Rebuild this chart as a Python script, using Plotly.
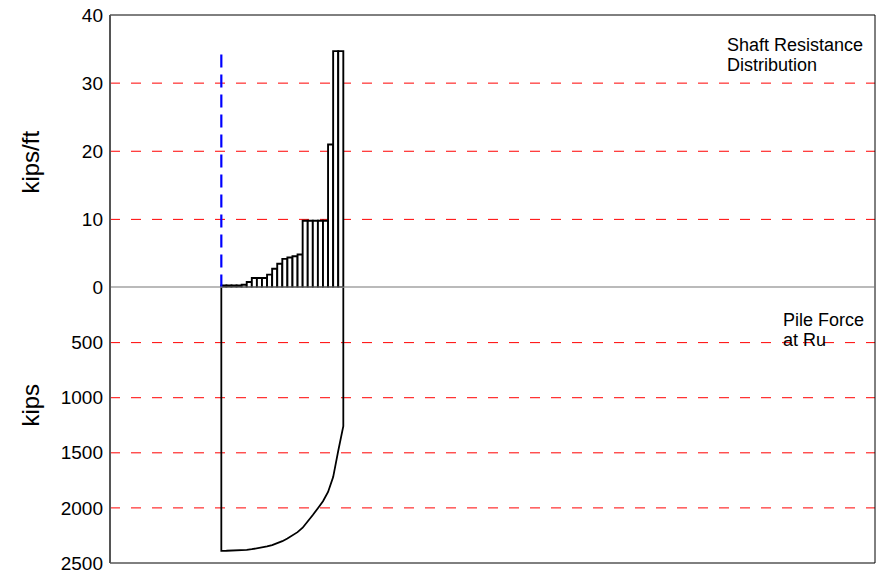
import plotly.graph_objects as go

# ---- data ----
# shaft resistance per pile segment (kips/ft), segments 1..24
shaft_resistance = [0.3, 0.3, 0.3, 0.3, 0.4, 0.8, 1.4, 1.4, 1.4, 1.9, 2.75, 3.5,
                    4.2, 4.4, 4.6, 4.85, 9.8, 9.8, 9.8, 9.8, 9.8, 21.0, 34.7, 34.7]
segment_centers = [i + 0.5 for i in range(len(shaft_resistance))]

# pile force at Ru (kips) at segment boundaries 0..24
force_depth = list(range(25))
pile_force = [2390, 2389, 2388, 2386, 2384, 2380, 2375, 2368, 2360, 2350, 2338, 2322,
              2302, 2278, 2250, 2220, 2180, 2125, 2065, 2003, 1940, 1855, 1720, 1482, 1259]

top_ticks = [0, 10, 20, 30, 40]
bottom_ticks = [500, 1000, 1500, 2000, 2500]
top_grid = [10, 20, 30]
bottom_grid = [500, 1000, 1500, 2000]
marker_line_top = 35

FONT = "Liberation Sans, Arial, sans-serif"

W, H = 880, 579
PL, PR, PT, PB = 110, 875, 12, 569       # plot area in window pixels
MID = 289
L, T, R, B = PL, PT, W - PR, H - PB
pw, ph = PR - PL, PB - PT
split = (PB - MID) / ph

def px(xp):
    return (xp - PL) / pw

def py(yp):
    return (PB - yp) / ph

fig = go.Figure()

# shaft resistance bars
fig.add_trace(go.Bar(
    x=segment_centers, y=shaft_resistance, width=1,
    marker=dict(color="white", line=dict(color="black", width=1.9)),
    xaxis="x", yaxis="y", showlegend=False, hoverinfo="skip"))

# pile force polygon
fx = [force_depth[0]] + force_depth + [force_depth[-1]]
fy = [0] + pile_force + [0]
fig.add_trace(go.Scatter(
    x=fx, y=fy, mode="lines", line=dict(color="black", width=1.8),
    xaxis="x2", yaxis="y2", showlegend=False, hoverinfo="skip"))

# blue dashed marker line at pile top
fig.add_trace(go.Scatter(
    x=[0, 0], y=[0, marker_line_top], mode="lines",
    line=dict(color="#0000ff", width=2.2, dash="13px,7px"),
    xaxis="x", yaxis="y", showlegend=False, hoverinfo="skip"))

shapes = []
for v in top_grid:
    shapes.append(dict(type="line", xref="paper", yref="y", x0=0, x1=1, y0=v, y1=v,
                       line=dict(color="#ff0000", width=1, dash="10px,11px"), layer="below"))
for v in bottom_grid:
    shapes.append(dict(type="line", xref="paper", yref="y2", x0=0, x1=1, y0=v, y1=v,
                       line=dict(color="#ff0000", width=1, dash="10px,11px"), layer="below"))
# frame
shapes.append(dict(type="rect", xref="paper", yref="paper", x0=0, x1=1, y0=0, y1=1,
                   line=dict(color="black", width=1)))
# middle zero line
shapes.append(dict(type="line", xref="paper", yref="y", x0=0, x1=1, y0=0, y1=0,
                   line=dict(color="#777777", width=2)))
# left axis line
shapes.append(dict(type="line", xref="paper", yref="paper", x0=0, x1=0, y0=0, y1=1,
                   line=dict(color="#555555", width=2)))

def label(text, x, y, size=18, **kw):
    d = dict(text=text, xref="paper", yref="paper", x=px(x), y=py(y),
             xanchor="left", yanchor="middle", align="left", showarrow=False,
             font=dict(size=size, color="black", family=FONT))
    d.update(kw)
    return d

annotations = [
    label("Shaft Resistance", 725, 43),
    label("Distribution", 725, 63),
    label("Pile Force", 781, 322),
    label("at Ru", 781, 342),
    label("kips/ft", 31, 162, size=24, xanchor="center", textangle=-90),
    label("kips", 31, 409, size=24, xanchor="center", textangle=-90),
]

xr = [-21.9, 128.6]
fig.update_layout(
    width=W, height=H,
    margin=dict(l=L, r=R, t=T, b=B),
    paper_bgcolor="white", plot_bgcolor="white",
    font=dict(family=FONT, color="black", size=19),
    bargap=0,
    hovermode=False,
    xaxis=dict(range=xr, showticklabels=False, showgrid=False, zeroline=False,
               anchor="y", domain=[0, 1]),
    xaxis2=dict(range=xr, showticklabels=False, showgrid=False, zeroline=False,
                anchor="y2", domain=[0, 1], matches="x"),
    yaxis=dict(range=[0, 40], domain=[split, 1], tickvals=top_ticks, showgrid=False,
               zeroline=False, anchor="x", ticks="", ticklabelstandoff=6,
               ticklabeloverflow="allow", tickfont=dict(size=19)),
    yaxis2=dict(range=[2500, 0], domain=[0, split], tickvals=bottom_ticks, showgrid=False,
                zeroline=False, anchor="x2", ticks="", ticklabelstandoff=6,
                ticklabeloverflow="allow", tickfont=dict(size=19)),
    shapes=shapes,
    annotations=annotations,
)

fig.write_html("out.html",
               config={"displayModeBar": False, "staticPlot": True},
               post_script="document.body.style.margin='0';document.body.style.padding='0';")
